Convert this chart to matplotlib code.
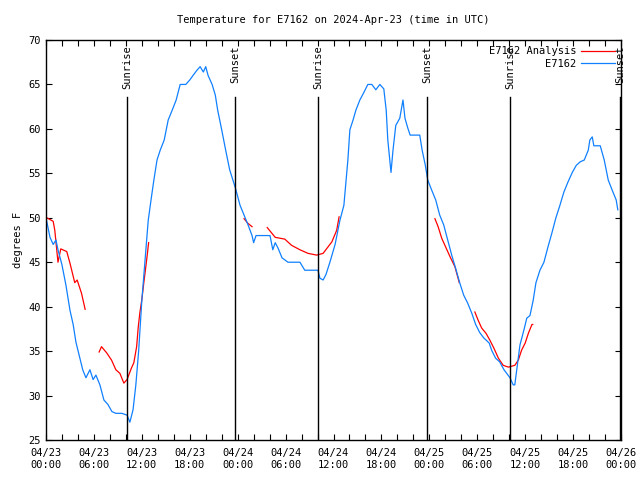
import numpy as np
import matplotlib
matplotlib.use('Agg')
import matplotlib.pyplot as plt
import matplotlib.dates as mdates

# hours since 2024-04-23 00:00 UTC
obs_hours = [0.0, 0.5, 0.9, 1.25, 1.5, 2.0, 2.5, 3.0, 3.4, 3.75, 4.25, 4.6, 5.0, 5.5, 5.9,
             6.25, 6.75, 7.25, 7.75, 8.25, 8.75, 9.5, 10.15, 10.5, 10.9, 11.25, 11.6, 12.0,
             12.4, 12.8, 13.15, 13.5, 13.9, 14.3, 14.8, 15.3, 15.8, 16.3, 16.8, 17.5, 18.0,
             18.4, 18.9, 19.3, 19.7, 20.0, 20.3, 20.8, 21.2, 21.5, 22.0, 22.5, 23.0, 23.7,
             24.3, 24.8, 25.3, 25.8, 26.0, 26.3, 28.05, 28.4, 28.7, 29.05, 29.55, 30.3, 31.8,
             32.4, 34.05, 34.3, 34.7, 35.05, 35.55, 36.2, 36.8, 37.3, 37.8, 38.05, 38.45,
             38.8, 39.3, 39.8, 40.3, 40.8, 41.3, 41.8, 42.3, 42.6, 42.8, 43.05, 43.2, 43.45,
             43.8, 44.3, 44.7, 44.95, 45.3, 45.6, 46.8, 47.1, 47.5, 47.8, 48.3, 48.8, 49.3,
             49.8, 50.3, 50.8, 51.3, 51.8, 52.3, 52.8, 53.3, 53.8, 54.3, 54.8, 55.5, 55.8,
             56.3, 56.8, 57.35, 57.85, 58.1, 58.5, 58.7, 58.95, 59.35, 59.85, 60.2, 60.6,
             61.0, 61.35, 61.85, 62.35, 62.85, 63.35, 63.85, 64.35, 64.85, 65.35, 65.9,
             66.4, 66.9, 67.4, 67.9, 68.1, 68.4, 68.6, 69.4, 69.9, 70.4, 70.9, 71.4, 71.6]
obs_temp = [50, 47.8, 47, 47.5, 46.4, 44.7, 42.4, 39.6, 38, 36, 34.2, 32.9, 32, 32.9, 31.8,
            32.3, 31.2, 29.5, 29, 28.2, 28, 28, 27.8, 27, 28.4, 31.2, 35, 40.7,
            45.2, 49.7, 52, 54.2, 56.5, 57.6, 58.75, 61, 62.1, 63.25, 65, 65, 65.5,
            66, 66.6, 67, 66.4, 67, 66, 65, 63.8, 62.1, 59.9, 57.6, 55.4, 53.4,
            51.4, 50.3, 49.2, 48, 47.2, 48, 48, 46.4, 47.2, 46.6, 45.5, 45, 45,
            44.1, 44.1, 43.2, 43, 43.6, 45, 47, 49.7, 51.4, 56.5, 59.9, 61,
            62.1, 63.25, 64.1, 65, 65, 64.4, 65, 64.5, 62.1, 58.75, 56.5, 55.1, 57.6,
            60.4, 61.2, 63.25, 61.2, 60.1, 59.3, 59.3, 57.6, 55.9, 54.25, 53.1, 52, 50.3,
            49.2, 47.5, 45.8, 44.3, 42.7, 41.3, 40.4, 39.3, 38, 37.1, 36.5, 35.9, 35.1,
            34.2, 33.8, 32.9, 32.3, 32, 31.2, 31.2, 32.9, 35.7, 37.4, 38.7, 39,
            40.7, 42.7, 44.1, 45, 46.7, 48.3, 50, 51.4, 52.9, 54, 55.1,
            55.9, 56.3, 56.5, 57.6, 58.75, 59.1, 58.1, 58.1, 56.5, 54.25, 53.1, 52, 50.9]

# analysis series, NaN marks a gap
ana_hours = [0.1, 0.9, 1.1, 1.5, 1.85, 2.6, 3.0, 3.6, 3.9, 4.45, 4.9, np.nan,
             6.65, 6.95, 7.6, 8.2, 8.75, 9.25, 9.75, 10.15, 10.7, 11.0, 11.35, 11.55,
             11.75, 12.0, 12.25, 12.5, 12.7, 12.85, np.nan,
             24.8, 25.25, 25.8, np.nan,
             27.7, 28.7, 29.9, 30.75, 31.8, 32.8, 33.9, 34.7, 35.8, 36.4, 36.7, np.nan,
             48.7, 49.1, 49.55, 49.95, 50.6, 51.2, 51.75, np.nan,
             53.7, 54.1, 54.55, 55.1, 55.6, 56.1, 56.65, 57.25, 57.9, 58.7, 59.15, 59.55,
             60.0, 60.4, 60.85, 60.95]
ana_temp = [50, 49.6, 48.6, 45, 46.5, 46.2, 44.9, 42.7, 43, 41.5, 39.7, np.nan,
            34.9, 35.5, 34.8, 34, 32.9, 32.5, 31.4, 31.8, 33.1, 33.7, 35.5, 37.7,
            39.3, 40.8, 42.7, 44.5, 46, 47.2, np.nan,
            49.9, 49.4, 49, np.nan,
            48.9, 47.8, 47.6, 46.9, 46.4, 46, 45.8, 46, 47.3, 48.6, 50.1, np.nan,
            49.9, 49, 47.7, 46.9, 45.6, 44.5, 42.7, np.nan,
            39.4, 38.5, 37.6, 37, 36.2, 35.3, 34.2, 33.4, 33.2, 33.4, 34, 35.1,
            35.9, 37, 38, 38]

event_hours = [10.15, 23.65, 34.05, 47.7, 58.1, 71.85]
event_names = ['Sunrise', 'Sunset', 'Sunrise', 'Sunset', 'Sunrise', 'Sunset']

t0 = np.datetime64('2024-04-23T00:00')
def to_time(hours):
    return t0 + (np.array(hours) * 3600).astype('timedelta64[s]')

plt.rcParams['font.family'] = ['DejaVu Sans Mono']
plt.rcParams['font.size'] = 7.5

fig = plt.figure(figsize=(6.4, 4.8), dpi=100)
ax = fig.add_axes([46/640, 40/480, 575/640, 400/480])

ana_t = t0 + (np.nan_to_num(np.array(ana_hours)) * 3600).astype('timedelta64[s]')
ana_y = np.array(ana_temp, dtype=float)
ax.plot(ana_t, ana_y, color='#ff0000', lw=0.9, label='E7162 Analysis')
ax.plot(to_time(obs_hours), obs_temp, color='#1080ff', lw=0.9, label='E7162')

for h, name in zip(event_hours, event_names):
    t = to_time([h])[0]
    ax.plot([t, t], [25, 63.6], color='black', lw=1.0)
    ax.text(t, 69.4, name, rotation=90, ha='center', va='top', fontsize=7.5)

ax.set_xlim(t0, t0 + np.timedelta64(72, 'h'))
ax.set_ylim(25, 70)
ax.set_yticks(range(25, 71, 5))
ax.xaxis.set_major_locator(mdates.HourLocator(byhour=[0, 6, 12, 18]))
ax.xaxis.set_minor_locator(mdates.HourLocator(interval=2))
ax.xaxis.set_major_formatter(mdates.DateFormatter('%m/%d\n%H:%M'))
ax.tick_params(which='both', direction='in', length=4, top=True, right=True, width=0.8)
ax.tick_params(axis='x', pad=6)
for s in ax.spines.values():
    s.set_linewidth(1.0)

ax.set_ylabel('degrees F', labelpad=4)
ax.set_title('Temperature for E7162 on 2024-Apr-23 (time in UTC)', fontsize=7.5, pad=12)

ax.legend(loc='upper right', frameon=False, markerfirst=False, handlelength=3.2,
          borderaxespad=0.2, labelspacing=0.25, handletextpad=0.5)

fig.savefig('out.png', dpi=100)
